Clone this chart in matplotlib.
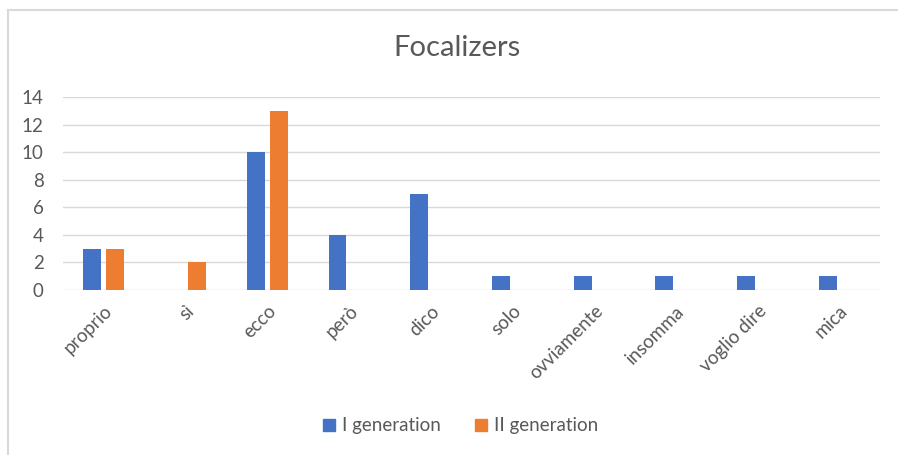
import matplotlib
matplotlib.use("Agg")
import matplotlib.pyplot as plt
from matplotlib.lines import Line2D
import numpy as np

categories = ["proprio", "sì", "ecco", "però", "dico", "solo",
              "ovviamente", "insomma", "voglio dire", "mica"]
gen1 = [3, 0, 10, 4, 7, 1, 1, 1, 1, 1]
gen2 = [3, 2, 13, 0, 0, 0, 0, 0, 0, 0]
series_names = ["I generation", "II generation"]
yticks = [0, 2, 4, 6, 8, 10, 12, 14]

BLUE = "#4472C4"
ORANGE = "#ED7D31"
TEXT = "#595959"
GRID = "#D9D9D9"

plt.rcParams["font.family"] = ["Lato", "DejaVu Sans"]

W, H = 898, 455
fig = plt.figure(figsize=(W / 100, H / 100), dpi=100)
ax = fig.add_axes([63 / W, 1 - 290 / H, (880 - 63) / W, (290 - 97) / H])

x = np.arange(len(categories))
bw = 0.22
off = 0.14
ax.bar(x - off, gen1, bw, color=BLUE, zorder=3)
ax.bar(x + off, gen2, bw, color=ORANGE, zorder=3)

ax.set_xlim(-0.5, len(categories) - 0.5)
ax.set_ylim(0, 14)
ax.set_yticks(yticks)
ax.yaxis.grid(True, color=GRID, linewidth=1.0, zorder=0)
ax.set_axisbelow(True)
for s in ax.spines.values():
    s.set_visible(False)
ax.tick_params(axis="both", length=0, colors=TEXT, labelsize=13.5)
ax.tick_params(axis="y", pad=14)
ax.tick_params(axis="x", pad=9)
ax.set_xticks(x)
ax.set_xticklabels(categories, rotation=45, ha="right", rotation_mode="anchor")

fig.text(457 / W, 1 - 48 / H, "Focalizers", ha="center", va="center",
         fontsize=21, color=TEXT)

handles = [Line2D([], [], marker="s", linestyle="none", markersize=8,
                  markerfacecolor=c, markeredgecolor=c)
           for c in (BLUE, ORANGE)]
fig.legend(handles, series_names, loc="center", bbox_to_anchor=(459 / W, 1 - 426 / H),
           ncol=2, frameon=False, fontsize=13.5, labelcolor=TEXT,
           handletextpad=0.2, columnspacing=1.6, handlelength=1.0)

# chart frame
fig.add_artist(Line2D([8 / W, 8 / W], [0, 1 - 10 / H], color=GRID, linewidth=1.5,
                      transform=fig.transFigure))
fig.add_artist(Line2D([8 / W, 1], [1 - 10 / H, 1 - 10 / H], color=GRID, linewidth=1.5,
                      transform=fig.transFigure))

fig.savefig("out.png", dpi=100, facecolor="white")
